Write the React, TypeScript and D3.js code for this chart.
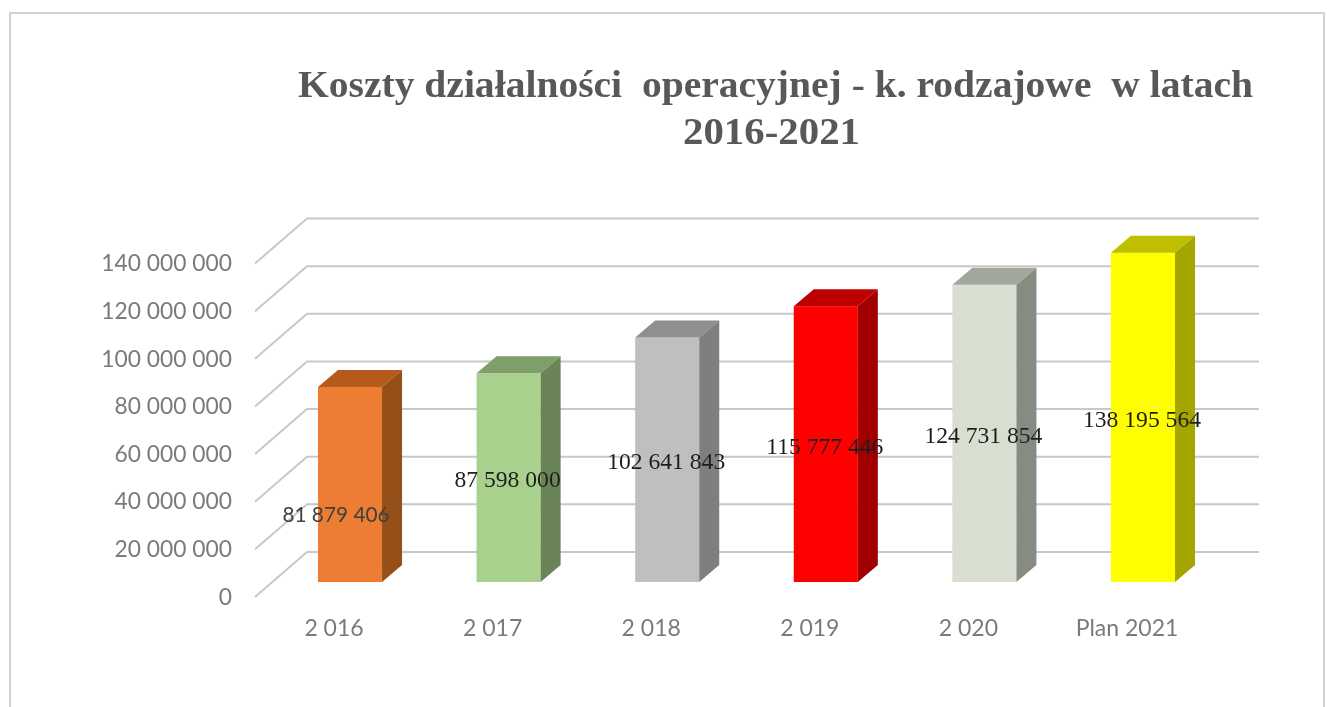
import React from "react";
import * as d3 from "d3";

const categories = ["2 016", "2 017", "2 018", "2 019", "2 020", "Plan 2021"];
const values = [81879406, 87598000, 102641843, 115777446, 124731854, 138195564];
const valueLabels = ["81 879 406", "87 598 000", "102 641 843", "115 777 446", "124 731 854", "138 195 564"];
const frontColors = ["#ED7D31", "#A9D18E", "#BFBFBF", "#FF0000", "#D8DFD0", "#FFFF00"];
const topColors = ["#B65A1C", "#7F9F6B", "#8F8F8F", "#BF0000", "#A2A79C", "#BFBF00"];
const sideColors = ["#964F17", "#6A8459", "#7F7F7F", "#A00000", "#878C83", "#A5A500"];
const axisTicks = [0, 20000000, 40000000, 60000000, 80000000, 100000000, 120000000, 140000000];
const axisLabels = ["0", "20 000 000", "40 000 000", "60 000 000", "80 000 000", "100 000 000", "120 000 000", "140 000 000"];
const titleLines = ["Koszty działalności  operacyjnej - k. rodzajowe  w latach", "2016-2021"];

const W = 1327, H = 707;
const y = d3.scaleLinear().domain([0, 140000000]).range([582, 248.5]);
const x = d3.scaleBand<string>().domain(categories).range([270.7, 1222.3]).paddingInner(0.596).paddingOuter(0.298);
const barDX = 20, barDY = 17;
const wallFront = 15, wallBack = -30, wallX0 = 255, wallX1 = 307, wallX2 = 1259;
const sans = "Lato, 'Open Sans', sans-serif";
const serif = "'Liberation Serif', serif";

export default function App() {
  const bw = x.bandwidth();
  return (
    <svg width={W} height={H} viewBox={`0 0 ${W} ${H}`} style={{ position: "absolute", left: 0, top: 0, display: "block", background: "#fff" }}>
      <defs>
        <filter id="soft" x="-2%" y="-2%" width="104%" height="104%">
          <feGaussianBlur stdDeviation="0.6" />
        </filter>
      </defs>
      <g filter="url(#soft)">
        <path d={`M10,707 V13 H1324 V707`} fill="none" stroke="#d2d2d2" strokeWidth={2} />
        {titleLines.map((t, i) => (
          <text key={i} x={i === 0 ? 775.5 : 771.5} y={i === 0 ? 97 : 144} textAnchor="middle" fontFamily={serif} fontWeight="bold" fontSize={37.5} fill="#595959" xmlSpace="preserve" textLength={i === 0 ? 955 : 177} lengthAdjust="spacingAndGlyphs">{t}</text>
        ))}
        {axisTicks.map((t, i) => (
          <g key={t}>
            <path d={`M${wallX0},${y(t) + wallFront} L${wallX1},${y(t) + wallBack} H${wallX2}`} fill="none" stroke="#c8c8c8" strokeWidth={2} />
            <text x={232} y={y(t) + wallFront + 2} textAnchor="end" dominantBaseline="middle" fontFamily={sans} fontSize={22.8} fill="#7a7a7a">{axisLabels[i]}</text>
          </g>
        ))}
        {categories.map((c, i) => {
          const x0 = x(c)!, x1 = x0 + bw, y0 = y(0), y1 = y(values[i]);
          return (
            <g key={c}>
              <rect x={x0} y={y1} width={bw} height={y0 - y1} fill={frontColors[i]} />
              <path d={`M${x0},${y1} l${barDX},${-barDY} H${x1 + barDX} L${x1},${y1} Z`} fill={topColors[i]} />
              <path d={`M${x1},${y1} l${barDX},${-barDY} V${y0 - barDY} L${x1},${y0} Z`} fill={sideColors[i]} />
              <text x={x0 + bw / 2 - 16} y={630} textAnchor="middle" dominantBaseline="middle" fontFamily={sans} fontSize={23} fill="#7a7a7a">{c}</text>
            </g>
          );
        })}
        {categories.map((c, i) => {
          const cx = x(c)! + bw / 2, mid = (y(0) + y(values[i])) / 2;
          const first = i === 0;
          return (
            <text key={c} x={first ? cx - 14 : cx - 1} y={first ? mid + 32 : mid + 4} textAnchor="middle" dominantBaseline="middle" fontFamily={first ? sans : serif} fontSize={first ? 20.8 : 23.6} fill={first ? "#404040" : "#1f1f1f"}>{valueLabels[i]}</text>
          );
        })}
      </g>
    </svg>
  );
}
